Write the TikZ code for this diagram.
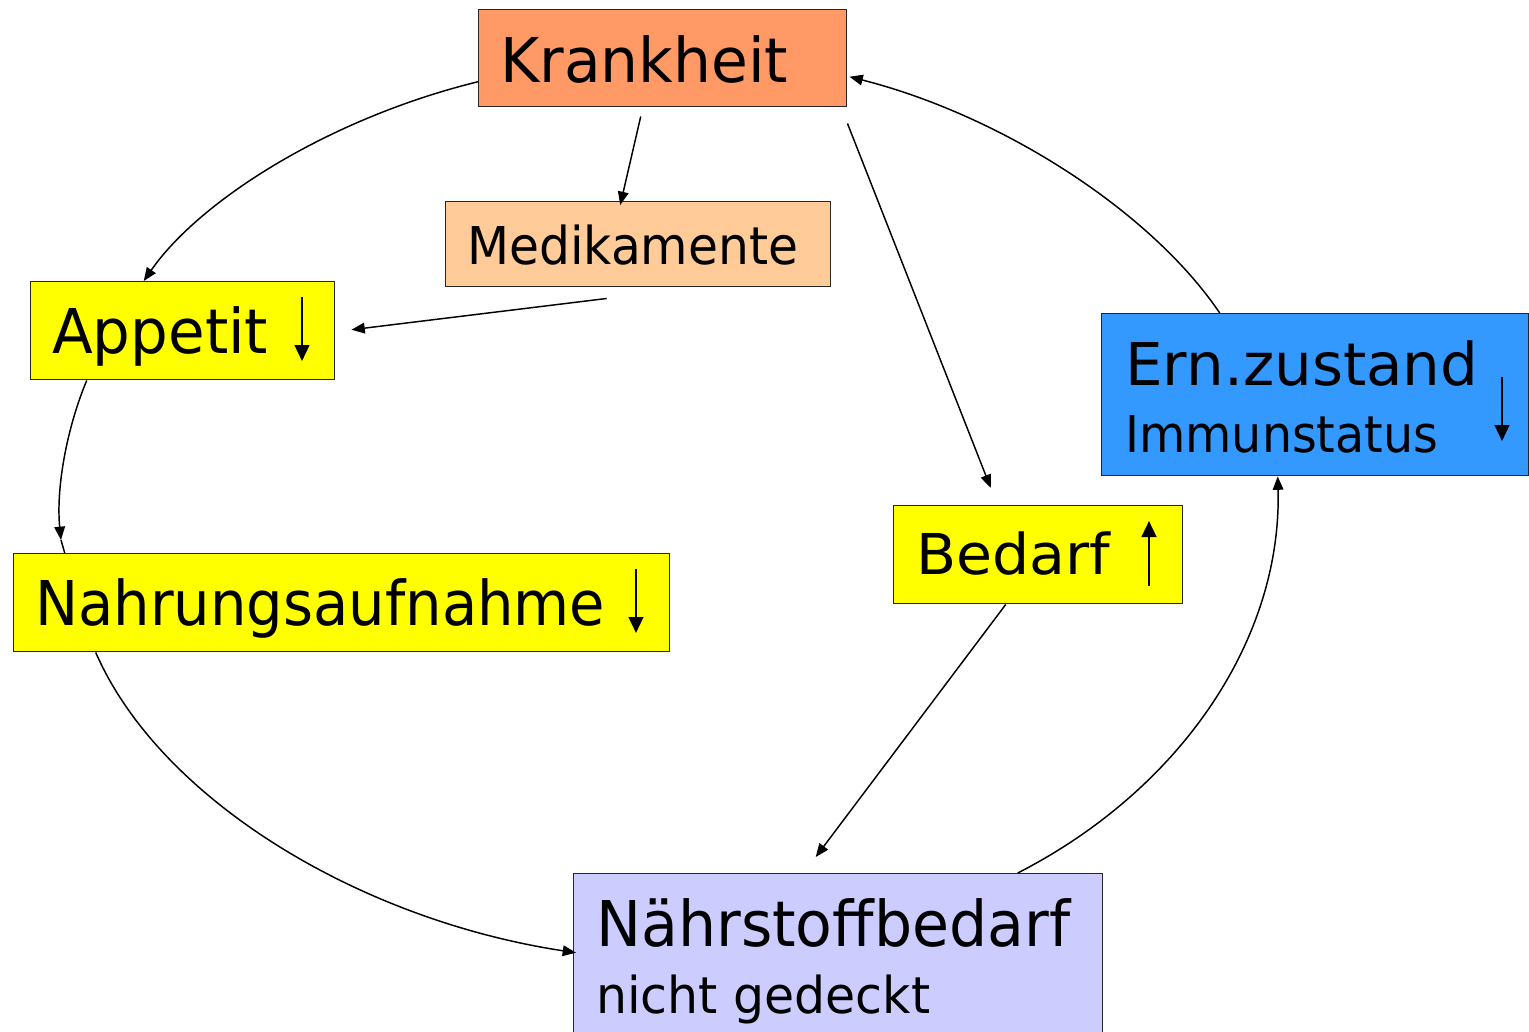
\documentclass[tikz,border=0pt]{standalone}
\usepackage{fontspec}
\setmainfont{DejaVu Sans}
\usepackage{graphicx}
\usetikzlibrary{arrows.meta,calc}
\newcommand{\fitw}[3]{\fontsize{#2}{#2}\selectfont\resizebox{#1}{\height}{#3}}
\definecolor{cKrank}{HTML}{FF9966}
\definecolor{cMedi}{HTML}{FFCC99}
\definecolor{cYel}{HTML}{FFFF00}
\definecolor{cErn}{HTML}{3399FF}
\definecolor{cNaehr}{HTML}{CCCCFF}
\tikzset{
  box/.style={draw=black!85, line width=1.1pt, inner sep=0pt, anchor=north west},
  txt/.style={anchor=base west, inner sep=0pt},
  conn/.style={line width=1.1pt, -{Triangle[length=10pt,width=8pt]}},
  plainconn/.style={line width=1.1pt},
  updown/.style={line width=1.8pt, -{Triangle[length=12pt,width=11pt]}}
}
\begin{document}
\begin{tikzpicture}[x=0.75pt,y=-0.75pt]
\clip (0,0) rectangle (1529,1032);
\fill[white] (0,0) rectangle (1529,1032);
% boxes
\node[box, fill=cKrank, minimum width=276pt, minimum height=72.75pt] (krank) at (478,9) {};
\node[box, fill=cMedi, minimum width=288.75pt, minimum height=63.75pt] (medi) at (445,201) {};
\node[box, fill=cYel, minimum width=228pt, minimum height=73.5pt] (appe) at (30,281) {};
\node[box, fill=cYel, minimum width=492pt, minimum height=73.5pt] (nahr) at (13,553) {};
\node[box, fill=cYel, minimum width=216.75pt, minimum height=73.5pt] (beda) at (893,505) {};
\node[box, fill=cErn, minimum width=320.25pt, minimum height=121.5pt] (ern) at (1101,313) {};
\node[box, fill=cNaehr, minimum width=396.75pt, minimum height=127.5pt] (naehr) at (573,873) {};
% texts
\node[txt] (tkrank) at (500,82) {\fitw{216pt}{46.3pt}{Krankheit}};
\node[txt] (tmedi) at (467,264) {\fitw{248.25pt}{39.1pt}{Medikamente}};
\node[txt] (tappe) at (52,353) {\fitw{162pt}{46.3pt}{Appetit}};
\node[txt] (tnahr) at (35,625) {\fitw{427.5pt}{46.3pt}{Nahrungsaufnahme}};
\node[txt] (tbeda) at (916,574) {\fitw{145.5pt}{42.2pt}{Bedarf}};
\node[txt] (tern) at (1125,385) {\fitw{264.75pt}{44.2pt}{Ern.zustand}};
\node[txt] (timm) at (1125,452) {\fitw{234.75pt}{38.1pt}{Immunstatus}};
\node[txt] (tnaehr) at (596,946) {\fitw{355.5pt}{47.3pt}{Nährstoffbedarf}};
\node[txt] (tnicht) at (596,1013) {\fitw{250.5pt}{38.1pt}{nicht gedeckt}};
% in-box arrows
\coordinate (aA1) at (302,297); \coordinate (aA2) at (302,361);
\draw[updown] (aA1) -- (aA2);
\coordinate (aN1) at (636,569); \coordinate (aN2) at (636,633);
\draw[updown] (aN1) -- (aN2);
\coordinate (aB1) at (1149,586); \coordinate (aB2) at (1149,521);
\draw[updown] (aB1) -- (aB2);
\coordinate (aE1) at (1502,377); \coordinate (aE2) at (1502,441);
\draw[updown] (aE1) -- (aE2);
% connectors
\draw[conn] ($(krank.west)+(0,23.5)$) .. controls (330,118) and (200,200) .. ($(appe.north)+(-39,0)$);
\draw[conn] ($(krank.south)+(-22,9)$) -- ($(medi.north)+(-18,4)$);
\draw[conn] ($(medi.south)+(-31.5,11)$) -- ($(appe.east)+(16,-1)$);
\coordinate (nahrIn) at (61,540);
\draw[conn] ($(appe.south)+(-96,0)$) .. controls (66,430) and (56,490) .. (nahrIn);
\draw[plainconn] (nahrIn) -- ($(nahr.north)+(-277,0)$);
\draw[conn] ($(nahr.south)+(-246,0)$) .. controls (160,800) and (360,920) .. ($(naehr.west)+(3,-6)$);
\draw[conn] ($(krank.south east)+(0,16)$) -- ($(beda.north)+(-47.5,-17)$);
\draw[conn] ($(beda.south)+(-32.5,0)$) -- ($(naehr.north)+(-22.5,-16)$);
\draw[conn] ($(naehr.north)+(179.5,0)$) .. controls (1180,790) and (1282,640) .. ($(ern.south)+(-37.5,0)$);
\draw[conn] ($(ern.north)+(-95.5,0)$) .. controls (1150,210) and (1000,115) .. ($(krank.east)+(2,18.5)$);
\end{tikzpicture}
\end{document}
